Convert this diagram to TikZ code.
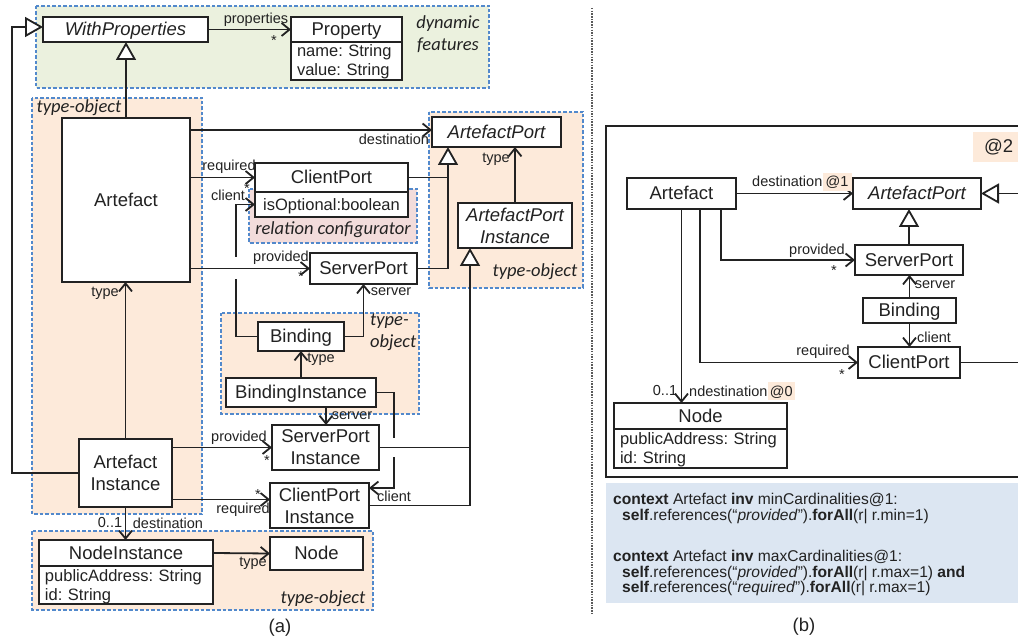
\documentclass[tikz,border=0pt]{standalone}
\usepackage{fontspec}
\setmainfont{Liberation Sans}
\newfontfamily\calfont{Carlito}
\usetikzlibrary{arrows.meta}

\definecolor{ink}{HTML}{222222}
\definecolor{dashblue}{RGB}{82,137,204}
\definecolor{orgfill}{RGB}{253,234,218}
\definecolor{grnfill}{RGB}{235,241,222}
\definecolor{pinkfill}{RGB}{242,220,219}
\definecolor{oclfill}{RGB}{220,230,242}
\definecolor{sepgray}{RGB}{90,90,90}

\newcommand\clsfont{\fontsize{18.5}{22}\selectfont}
\newcommand\attrfont{\fontsize{16.5}{19}\selectfont}
\newcommand\lblfont{\fontsize{14.5}{16}\selectfont}
\newcommand\regfont{\calfont\itshape\fontsize{18.5}{22}\selectfont}
\newcommand\oclfont{\fontsize{15.6}{16}\selectfont}

\tikzset{
  cls/.style={draw=ink, line width=1.9pt, fill=white, inner sep=0pt,
    outer sep=0pt, font=\clsfont, text=ink, align=center},
  one/.style={text height=16.7pt, text depth=3.9pt},
  attr/.style={draw=ink, line width=1.9pt, fill=white, inner xsep=6pt,
    inner ysep=0pt, outer sep=0pt, font=\attrfont, text=ink, align=left,
    text height=12.5pt, text depth=20.5pt},
  region/.style={draw=dashblue, line width=1.2pt, dash pattern=on 3.5pt off 2pt},
  lbl/.style={font=\lblfont, text=ink, inner sep=0pt},
  regtxt/.style={font=\regfont, text=ink, inner sep=0pt},
  hl/.style={fill=orgfill},
  ocl/.style={font=\oclfont, text=ink, inner sep=0pt, anchor=base west},
  conn/.style={draw=ink, line width=1.8pt},
  assoc/.style={conn, -{Straight Barb[length=8pt,width=13pt]}},
  gen/.style={conn, -{Triangle[open, fill=white, length=18pt, width=20pt]}},
}

\begin{document}
\frenchspacing
\begin{tikzpicture}[x=1pt, y=-1pt]
\useasboundingbox (0,0) rectangle (1018,644);
\clip (0,0) rectangle (1018,644);
\fill[white] (0,0) rectangle (1018,644);

% ---------- (a) pattern regions ----------
\filldraw[region, fill=grnfill] (36,6) rectangle (489,88);
\filldraw[region, fill=orgfill] (32,98) rectangle (202,514);
\filldraw[region, fill=orgfill] (429,112) rectangle (583,288);
\filldraw[region, fill=orgfill] (221,313) rectangle (419,414);
\filldraw[region, fill=orgfill] (32,531) rectangle (373,610);
\filldraw[region, fill=pinkfill] (249,189) rectangle (417,243);

\node[regtxt, align=center] (dynlbl) at (448,34) {dynamic\\features};
\node[regtxt] (tolA) at (79,108) {type-object};
\node[regtxt] (tolP) at (535,272) {type-object};
\node[regtxt, anchor=west, align=left] (tolB) at (370,332) {type-\\object};
\node[regtxt] (tolN) at (323,599) {type-object};
\node[regtxt] (rclbl) at (333,230) {relation configurator};

% ---------- (a) classes ----------
\node[cls, one, font=\clsfont\itshape, minimum width=165pt, minimum height=25pt] (wp) at (125.5,29.5) {WithProperties};
\node[cls, one, minimum width=111pt, minimum height=25pt] (prop) at (346.5,29.5) {Property};
\node[attr, text width=99pt, minimum height=38pt, anchor=north] (propat) at (prop.south) {name: String\\value: String};
\node[cls, one, minimum width=128pt, minimum height=164pt] (art) at (126,200) {Artefact};
\node[cls, one, font=\clsfont\itshape, minimum width=129pt, minimum height=30pt] (ap) at (496.5,132) {ArtefactPort};
\node[cls, one, minimum width=153pt, minimum height=29pt] (cp) at (331.5,177.5) {ClientPort};
\node[cls, font=\attrfont, text height=15pt, text depth=3.5pt, minimum width=153pt, minimum height=25pt, anchor=north] (cpat) at (cp.south) {isOptional:boolean};
\node[cls, one, minimum width=107pt, minimum height=31pt] (sp) at (363.5,268.5) {ServerPort};
\node[cls, font=\clsfont\itshape, minimum width=114pt, minimum height=45pt] (api) at (515,225.5) {ArtefactPort\\Instance};
\node[cls, one, minimum width=86pt, minimum height=29pt] (bd) at (301,336.5) {Binding};
\node[cls, one, minimum width=150pt, minimum height=29pt] (bi) at (301,392.5) {BindingInstance};
\node[cls, minimum width=107pt, minimum height=45pt] (spi) at (325.5,447.5) {ServerPort\\Instance};
\node[cls, minimum width=99pt, minimum height=45pt] (cpi) at (319.5,505.5) {ClientPort\\Instance};
\node[cls, minimum width=93pt, minimum height=68pt] (ai) at (125.5,473) {Artefact\\Instance};
\node[cls, one, minimum width=174pt, minimum height=26pt] (ni) at (126,553) {NodeInstance};
\node[attr, text width=162pt, minimum height=38pt, anchor=north] (niat) at (ni.south) {publicAddress: String\\id: String};
\node[cls, one, minimum width=93pt, minimum height=33pt] (nd) at (316.5,553.5) {Node};

% ---------- (a) connectors ----------
\draw[gen] (art.north) -- (art.north |- wp.south);
\coordinate (lft) at (12,0);
\coordinate (wpin) at ([yshift=2.5pt]wp.west);
\draw[gen] (ai.west) -| (lft |- wpin) -- (wpin);
\draw[assoc] (wp.east) -- (prop.west);
\coordinate (apin) at ([yshift=2pt]ap.west);
\draw[assoc] (art.east |- apin) -- (apin);
\draw[assoc] (art.east |- cp.west) -- (cp.west);
\coordinate (bdk) at (236,0);
\draw[assoc] (bd.west) -| (bdk |- cpat.west) -- (cpat.west);
\fill[white] (231,257) rectangle (241,279);
\draw[assoc] (art.east |- sp.west) -- (sp.west);
\coordinate (apg) at ([xshift=-48.5pt]ap.south);
\draw[gen] (sp.east) -| (apg);
\draw[conn] (cp.east) -- (cp.east -| apg);
\draw[assoc] (api.north) -- (api.north |- ap.south);
\coordinate (apig) at ([xshift=-45pt]api.south);
\draw[gen] (cpi.east) -| (apig);
\draw[assoc] (bi.north) -- (bi.north |- bd.south);
\coordinate (bis) at ([xshift=25pt]bi.south);
\draw[assoc] (bis) -- (bis |- spi.north);
\draw[assoc] (bd.east) -| (sp.south);
\coordinate (bik) at (394,0);
\coordinate (cpicl) at ([yshift=17.5pt]cpi.east);
\draw[assoc] (bi.east) -| (bik |- cpicl) -- (cpicl);
\fill[white] (388,438) rectangle (400,457);
\draw[conn] (spi.east) -- (spi.east -| apig);
\draw[assoc] (ai.north) -- (ai.north |- art.south);
\draw[assoc] (ai.east |- spi.west) -- (spi.west);
\coordinate (cpiin) at ([yshift=6pt]cpi.west);
\draw[assoc] (ai.east |- cpiin) -- (cpiin);
\draw[assoc] (ai.south) -- (ai.south |- ni.north);
\draw[assoc] (ni.east) -- (nd.west);

% ---------- (a) connector labels ----------
\node[lbl] (lprop) at (256,20) {properties};
\node[lbl] (sprop) at (274,41) {*};
\node[lbl] (ldest) at (394,139) {destination};
\node[lbl] (lreq) at (229,167) {required};
\node[lbl] (sreq) at (247,189) {*};
\node[lbl] (lcli) at (228,195) {client};
\node[lbl] (lprov) at (281,258) {provided};
\node[lbl] (sprov) at (301,277) {*};
\node[lbl] (ltype1) at (105,293) {type};
\node[lbl] (lsrv1) at (391,292) {server};
\node[lbl] (ltype2) at (496,159) {type};
\node[lbl] (ltype3) at (321,359) {type};
\node[lbl] (lsrv2) at (352,416) {server};
\node[lbl] (lcli2) at (394,496) {client};
\node[lbl] (lprov2) at (239,438) {provided};
\node[lbl] (sprov2) at (267,461) {*};
\node[lbl] (sreq2) at (258,494.5) {*};
\node[lbl] (lreq2) at (243,510) {required};
\node[lbl] (lmul) at (110,523) {0..1};
\node[lbl] (ldest2) at (168,523) {destination};
\node[lbl] (ltype4) at (253,563) {type};
\node[font=\clsfont, text=ink, inner sep=0pt] (capa) at (280,628) {(a)};

% ---------- separator ----------
\draw[sepgray, line width=1.1pt, dash pattern=on 1.5pt off 1.2pt] (592,8) -- (592,613);

% ---------- (b) ----------
\draw[ink, line width=1.8pt] (606,126) rectangle (1030,477);
\node[hl, font=\clsfont, text=ink, anchor=west, minimum height=30pt, inner xsep=11pt, text width=45pt, align=left] (at2) at (973,147) {@2};
\fill[oclfill] (606,483) rectangle (1030,603);

\node[cls, one, minimum width=109pt, minimum height=31pt] (ab) at (681.5,193.5) {Artefact};
\node[cls, one, font=\clsfont\itshape, minimum width=128pt, minimum height=31pt] (apb) at (917,193.5) {ArtefactPort};
\node[cls, one, minimum width=108pt, minimum height=30pt] (spb) at (909,260) {ServerPort};
\node[cls, one, minimum width=93pt, minimum height=25pt] (bdb) at (909.5,310.5) {Binding};
\node[cls, one, minimum width=102pt, minimum height=31pt] (cpb) at (909,362.5) {ClientPort};
\node[cls, one, minimum width=173pt, minimum height=26pt] (ndb) at (700.5,416) {Node};
\node[attr, text width=161pt, minimum height=39pt, anchor=north] (ndbat) at (ndb.south) {publicAddress: String\\id: String};

\coordinate (rgt) at (1030,0);
\draw[gen] (apb.east -| rgt) -- (apb.east);
\draw[conn] (cpb.east) -- (cpb.east -| rgt);
\draw[gen] (spb.north) -- (spb.north |- apb.south);
\draw[assoc] (bdb.north) -- (bdb.north |- spb.south);
\draw[assoc] (bdb.south) -- (bdb.south |- cpb.north);
\draw[assoc] (ab.east) -- (apb.west);
\coordinate (abp) at ([xshift=39.5pt]ab.south);
\coordinate (abr) at ([xshift=18.5pt]ab.south);
\draw[assoc] (abp) |- (spb.west);
\draw[assoc] (abr) |- (cpb.west);
\draw[assoc] (ab.south) -- (ab.south |- ndb.north);

\node[lbl, anchor=base west] (ldb) at (752,187) {destination};
\node[lbl, hl, anchor=base west, inner xsep=3pt, text height=14pt, text depth=4pt] (hdb) at (ldb.base east) {@1};
\node[lbl] (lprovb) at (817,251) {provided};
\node[lbl] (sprovb) at (834,271) {*};
\node[lbl] (lsrvb) at (935,285) {server};
\node[lbl] (lclib) at (934,337) {client};
\node[lbl] (lreqb) at (823,352) {required};
\node[lbl] (sreqb) at (842,375) {*};
\node[lbl] (lmulb) at (665,391) {0..1};
\node[lbl, anchor=base west] (lndb) at (689,396) {ndestination};
\node[lbl, hl, anchor=base west, inner xsep=2pt, text height=14pt, text depth=4pt] (hndb) at (lndb.base east) {@0};

\node[ocl] (ocl1) at (613,504.5) {\textbf{context} Artefact \textbf{inv} minCardinalities@1:};
\node[ocl] (ocl2) at (622,520.5) {\textbf{self}.references(“\textit{provided}”).\textbf{forAll}(r| r.min=1)};
\node[ocl] (ocl3) at (613,561.5) {\textbf{context} Artefact \textbf{inv} maxCardinalities@1:};
\node[ocl] (ocl4) at (622,577) {\textbf{self}.references(“\textit{provided}”).\textbf{forAll}(r| r.max=1) \textbf{and}};
\node[ocl] (ocl5) at (622,592.5) {\textbf{self}.references(“\textit{required}”).\textbf{forAll}(r| r.max=1)};

\node[font=\clsfont, text=ink, inner sep=0pt] (capb) at (804,627) {(b)};
\end{tikzpicture}
\end{document}
